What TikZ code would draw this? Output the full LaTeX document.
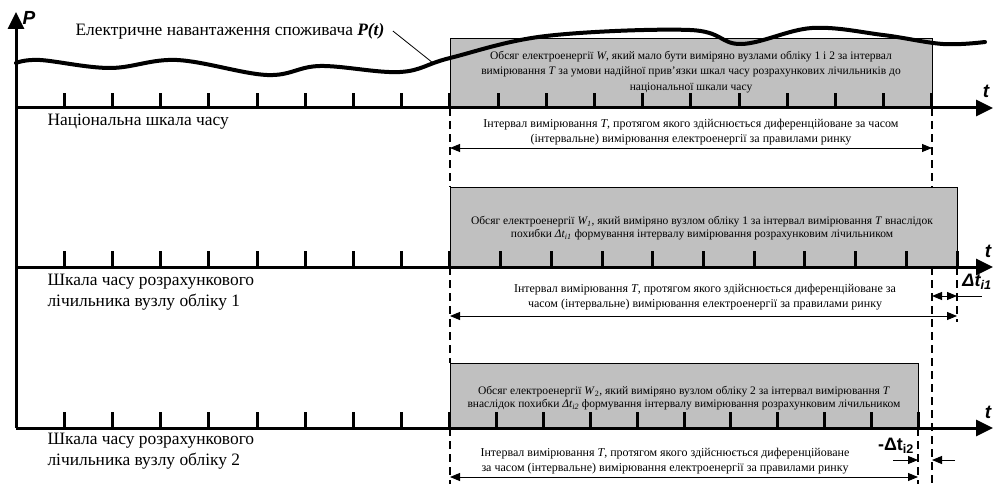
\documentclass[tikz,border=0pt]{standalone}
\usepackage{fontspec}
\setmainfont{Liberation Serif}
\newfontfamily\arialfont{Liberation Sans}
\usepackage{tikz}
\usetikzlibrary{arrows.meta}

\definecolor{boxgray}{RGB}{192,192,192}

\tikzset{
  axis/.style={line width=3pt, -{Triangle[length=17pt,width=16pt]}},
  tickmark/.style={line width=3pt},
  guide/.style={line width=1.2pt, dash pattern=on 8pt off 5pt},
  energy/.style={draw=black, fill=boxgray, line width=0.8pt},
  boxtext/.style={font=\fontsize{11.5}{13}\selectfont, align=center},
  note/.style={font=\fontsize{12}{15}\selectfont, align=center},
  dim/.style={line width=0.9pt, {Triangle[length=10pt,width=8pt]}-{Triangle[length=10pt,width=8pt]}},
  oneway/.style={line width=0.9pt, -{Triangle[length=10pt,width=8pt]}},
  scalelabel/.style={font=\fontsize{17.4}{20.5}\selectfont, anchor=west, align=left},
  axislabel/.style={font=\arialfont\bfseries\itshape\fontsize{19}{19}\selectfont},
}

\begin{document}
\begin{tikzpicture}[x=1pt, y=-1pt]
\useasboundingbox (0,0) rectangle (995,484);

% energy boxes
\draw[energy] (450,38) rectangle (932,108);
\draw[energy] (450,187) rectangle (957,267);
\draw[energy] (450,363) rectangle (918,428);

% guide lines
\draw[guide] (450,108) -- (450,187);
\draw[guide] (450,267) -- (450,363);
\draw[guide] (450,428) -- (450,484);
\draw[guide] (932,108) -- (932,187);
\draw[guide] (932,267) -- (932,484);
\draw[guide] (957,267) -- (957,322);
\draw[guide] (918,428) -- (918,484);

% axes
\coordinate (o) at (16,428);
\draw[axis] (o) -- (16,12);
\draw[axis] (16,108) -- (993,108);
\draw[axis] (16,267) -- (993,267);
\draw[axis] (o) -- (993,428);
\node[axislabel] (p) at (29,18) {P};
\node[axislabel] (t0) at (986,91) {t};
\node[axislabel] (t1) at (988,251) {t};
\node[axislabel] (t2) at (988,412) {t};

% ticks
\foreach \k in {1,...,19}
  \draw[tickmark] (16+48.2*\k,108) -- ++(0,-15);
\foreach \k in {1,...,9}
  \draw[tickmark] (16+48.2*\k,267) -- ++(0,-16);
\foreach \k in {1,...,10}
  \draw[tickmark] (450+50.7*\k,267) -- ++(0,-16);
\foreach \k in {1,...,9}
  \draw[tickmark] (16+48.2*\k,428) -- ++(0,-16);
\foreach \k in {1,...,10}
  \draw[tickmark] (450+46.8*\k,428) -- ++(0,-16);

% load curve
\draw[line width=4pt, line cap=round] plot[smooth, tension=0.6] coordinates
  {(16,63) (40,60) (110,68) (177,60) (267,75) (320,66) (400,72) (450,58)
   (546,36) (690,30) (741,44) (812,28) (883,35) (943,44) (985,42)};
\node[scalelabel] (load) at (72,31) {Електричне навантаження споживача \textbf{\textit{P(t)}}};
\coordinate (loadpt) at (433,63);
\draw[line width=0.8pt] ([xshift=5pt]load.east) -- (loadpt);

% scale names
\node[scalelabel] (s0) at (44,122) {Національна шкала часу};
\node[scalelabel] (s1) at (44,292) {Шкала часу розрахункового\\лічильника вузлу обліку 1};
\node[scalelabel] (s2) at (44,451) {Шкала часу розрахункового\\лічильника вузлу обліку 2};

% box texts
\node[boxtext, font=\fontsize{11.5}{15.5}\selectfont] (w0) at (691,72) {Обсяг електроенергії \textit{W}, який мало бути виміряно вузлами обліку 1 і 2 за інтервал\\вимірювання \textit{T} за умови надійної прив’язки шкал часу розрахункових лічильників до\\національної шкали часу};
\node[boxtext] (w1) at (702,228) {Обсяг електроенергії \textit{W\textsubscript{1}}, який виміряно вузлом обліку 1 за інтервал вимірювання \textit{T} внаслідок\\похибки \textit{Δt\textsubscript{i1}} формування інтервалу вимірювання розрахунковим лічильником};
\node[boxtext] (w2) at (684,398) {Обсяг електроенергії \textit{W}\textsubscript{2}, який виміряно вузлом обліку 2 за інтервал вимірювання \textit{T}\\внаслідок похибки \textit{Δt\textsubscript{i2}} формування інтервалу вимірювання розрахунковим лічильником};

% interval T
\node[note] (i0) at (691,132) {Інтервал вимірювання \textit{T}, протягом якого здійснюється диференційоване за часом\\(інтервальне) вимірювання електроенергії за правилами ринку};
\coordinate (a0) at (450,148);
\coordinate (b0) at (932,148);
\draw[dim] (a0) -- (b0);

\node[note] (i1) at (705,297) {Інтервал вимірювання \textit{T}, протягом якого здійснюється диференційоване за\\часом (інтервальне) вимірювання електроенергії за правилами ринку};
\coordinate (a1) at (450,316);
\coordinate (b1) at (957,316);
\draw[dim] (a1) -- (b1);

\node[note] (i2) at (665,461) {Інтервал вимірювання \textit{T}, протягом якого здійснюється диференційоване\\за часом (інтервальне) вимірювання електроенергії за правилами ринку};
\coordinate (a2) at (450,477);
\coordinate (b2) at (918,477);
\draw[dim] (a2) -- (b2);

% shifts
\coordinate (c1) at (932,296);
\coordinate (d1) at (957,296);
\coordinate (e1) at (982,296);
\draw[dim] (c1) -- (d1);
\draw[line width=0.9pt] (d1) -- (e1);
\node[font=\arialfont\bfseries\itshape\fontsize{18}{18}\selectfont] (dt1) at (977,282) {Δt\textsubscript{i1}};

\coordinate (c2) at (893,460);
\coordinate (d2) at (918,460);
\coordinate (e2) at (932,460);
\coordinate (f2) at (955,460);
\draw[oneway] (c2) -- (d2);
\draw[oneway] (f2) -- (e2);
\node[font=\arialfont\bfseries\fontsize{18}{18}\selectfont] (dt2) at (896,446) {-Δt\textsubscript{i2}};
\end{tikzpicture}
\end{document}
